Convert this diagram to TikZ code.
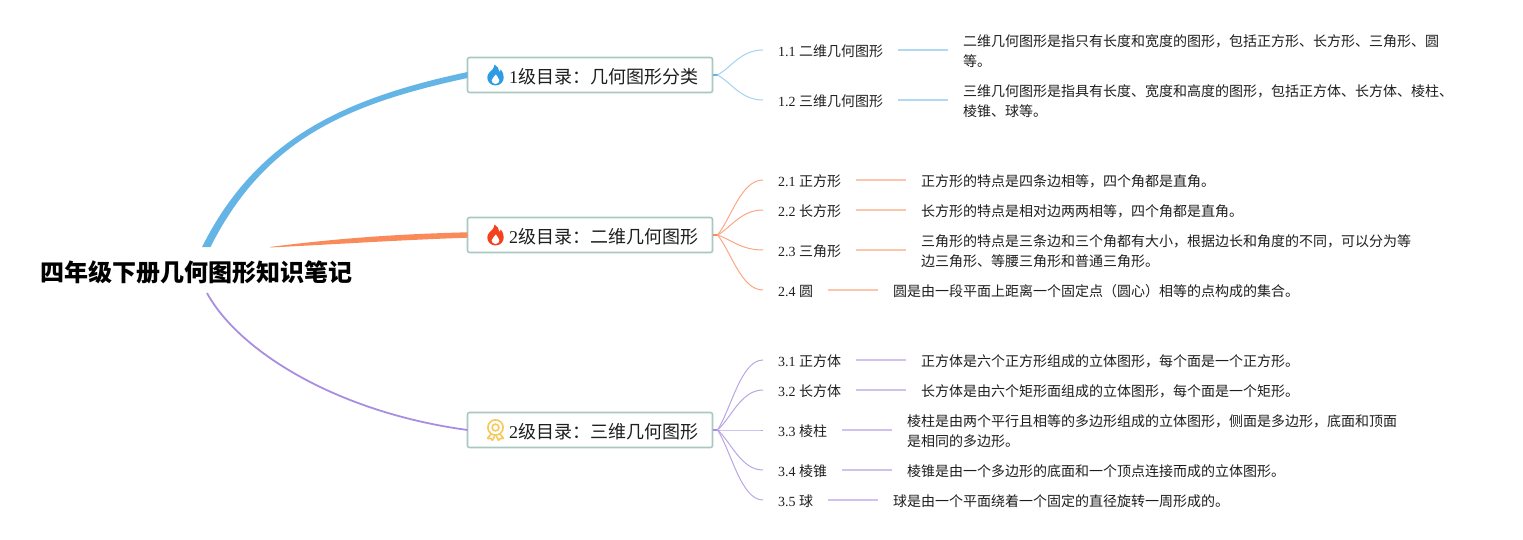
\documentclass[tikz,border=0pt]{standalone}
\usepackage{fontspec}
\usepackage{tikz}
\usetikzlibrary{positioning,calc}
\setmainfont{Noto Sans CJK SC}
\newfontfamily\latn{Liberation Serif}
\newcommand{\dg}[1]{{\latn #1}}
\newcommand{\fwcomma}{\char"FF0C\relax}
\newcommand{\fwcolon}{\char"FF1A\relax}
\newcommand{\fwopen}{\char"FF08\relax}
\newcommand{\fwclose}{\char"FF09\relax}
\definecolor{inkcol}{HTML}{1E1E1E}
\definecolor{framecol}{HTML}{A8C9C1}
\definecolor{bluecol}{HTML}{64B4E6}
\definecolor{orangecol}{HTML}{FA8A5A}
\definecolor{purplecol}{HTML}{A98EE0}
\definecolor{fireblue}{HTML}{2E9BE6}
\definecolor{firered}{HTML}{F4411E}
\definecolor{medalcol}{HTML}{F6C95A}
\tikzset{
	root/.style={inner sep=0pt,outer sep=0pt,text=black,font=\fontsize{24}{28}\selectfont\bfseries,text height=24pt,text depth=1pt},
	section/.style={draw=framecol,line width=1.6pt,rounded corners=2pt,fill=white,minimum width=245pt,minimum height=35pt,inner ysep=0pt,inner xsep=0pt,outer sep=0pt,text=inkcol,font=\fontsize{18}{22}\selectfont,text height=18pt,text depth=1pt},
	child/.style={anchor=west,inner ysep=0pt,inner xsep=15pt,outer sep=0pt,text=inkcol,font=\fontsize{14}{20}\selectfont,text height=14pt,text depth=1.4pt},
	detail/.style={inner ysep=0pt,inner xsep=15pt,outer sep=0pt,text=inkcol,font=\fontsize{14}{20}\selectfont,align=left,yshift=-1pt},
	twigblue/.style={draw=bluecol!60,line width=1pt},
	twigorange/.style={draw=orangecol!75,line width=1pt},
	twigpurple/.style={draw=purplecol!80,line width=1pt},
	linkblue/.style={draw=bluecol!50,line width=1.4pt},
	linkorange/.style={draw=orangecol!50,line width=1.4pt},
	linkpurple/.style={draw=purplecol!55,line width=1.4pt},
	flame/.pic={
		\fill[#1] (0,10.5) .. controls (-5,10.5) and (-8.2,6.5) .. (-8.2,2.5) .. controls (-8.2,-2) and (-4.5,-3.5) .. (-2.5,-6) .. controls (-1.2,-7.5) and (-1,-9) .. (-0.8,-10.5) .. controls (2,-9) and (3.5,-6) .. (3.8,-3) .. controls (4.8,-3.5) and (5.2,-4.5) .. (5.4,-5.5) .. controls (7.5,-3) and (8.2,0) .. (8.2,2.5) .. controls (8.2,6.5) and (5,10.5) .. (0,10.5) -- cycle;
		\fill[white] (0,9) .. controls (-2.4,9) and (-3.8,7.2) .. (-3.8,5.4) .. controls (-3.8,3.2) and (-1,2) .. (0.4,-0.6) .. controls (1.6,2) and (3.8,3.4) .. (3.8,5.4) .. controls (3.8,7.2) and (2.4,9) .. (0,9) -- cycle;
	},
	medal/.pic={
		\draw[medalcol,line width=1.6pt,fill=white] (0,-2.5) circle (7.6);
		\draw[medalcol,line width=1.6pt] (0,-2.5) circle (3.4);
		\draw[medalcol,line width=1.6pt,line join=round] (-4.5,4) -- (-8,8.4) -- (-4.6,8.6) -- (-3,10.4) -- (-0.8,6);
		\draw[medalcol,line width=1.6pt,line join=round] (4.5,4) -- (8,8.4) -- (4.6,8.6) -- (3,10.4) -- (0.8,6);
	},
}
\begin{document}
\begin{tikzpicture}[x=1pt,y=-1pt]
	\useasboundingbox (0,0) rectangle (1523,540);

	\node[root] (top) at (196,270) {四年级下册几何图形知识笔记};

	\node[section] (s1) at (590,75) {\hspace*{40pt}\dg{1}级目录\fwcolon 几何图形分类\hspace*{13pt}};
	\node[section] (s2) at (590,235) {\hspace*{40pt}\dg{2}级目录\fwcolon 二维几何图形\hspace*{13pt}};
	\node[section] (s3) at (590,430) {\hspace*{40pt}\dg{2}级目录\fwcolon 三维几何图形\hspace*{13pt}};

	\pic at ($(s1.west)+(28,0)$) {flame=fireblue};
	\pic at ($(s2.west)+(28,0)$) {flame=firered};
	\pic at ($(s3.west)+(28,0)$) {medal};

	\fill[bluecol] ($(top.center)+(6,-23)$) .. controls (257,137) and (347,97.7) .. ($(s1.west)+(0,-3)$) -- ($(s1.west)+(0,3)$) .. controls (347,104) and (265,139) .. ($(top.center)+(14.5,-23)$) -- cycle;
	\fill[orangecol] ($(top.center)+(74,-23)$) .. controls (340,238) and (400,234) .. ($(s2.west)+(0,-2.7)$) -- ($(s2.west)+(0,2.7)$) .. controls (400,240) and (340,244) .. ($(top.center)+(74,-22.5)$) -- cycle;
	\draw[purplecol,line width=1.8pt] ($(top.center)+(11,23)$) .. controls (238,350) and (335,412) .. (s3.west);

	\node[child] (c11) at (763,50) {\dg{1.1 }二维几何图形};
	\node[child] (c12) at (763,100) {\dg{1.2 }三维几何图形};
	\node[child] (c21) at (763,180) {\dg{2.1 }正方形};
	\node[child] (c22) at (763,210) {\dg{2.2 }长方形};
	\node[child] (c23) at (763,250) {\dg{2.3 }三角形};
	\node[child] (c24) at (763,290) {\dg{2.4 }圆};
	\node[child] (c31) at (763,360) {\dg{3.1 }正方体};
	\node[child] (c32) at (763,390) {\dg{3.2 }长方体};
	\node[child] (c33) at (763,430) {\dg{3.3 }棱柱};
	\node[child] (c34) at (763,470) {\dg{3.4 }棱锥};
	\node[child] (c35) at (763,500) {\dg{3.5 }球};

	\node[detail,right=50pt of c11] (d11) {二维几何图形是指只有长度和宽度的图形\fwcomma 包括正方形、长方形、三角形、圆\\等。};
	\node[detail,right=50pt of c12] (d12) {三维几何图形是指具有长度、宽度和高度的图形\fwcomma 包括正方体、长方体、棱柱、\\棱锥、球等。};
	\node[detail,right=50pt of c21] (d21) {正方形的特点是四条边相等\fwcomma 四个角都是直角。};
	\node[detail,right=50pt of c22] (d22) {长方形的特点是相对边两两相等\fwcomma 四个角都是直角。};
	\node[detail,right=50pt of c23] (d23) {三角形的特点是三条边和三个角都有大小\fwcomma 根据边长和角度的不同\fwcomma 可以分为等\\边三角形、等腰三角形和普通三角形。};
	\node[detail,right=50pt of c24] (d24) {圆是由一段平面上距离一个固定点\fwopen 圆心\fwclose 相等的点构成的集合。};
	\node[detail,right=50pt of c31] (d31) {正方体是六个正方形组成的立体图形\fwcomma 每个面是一个正方形。};
	\node[detail,right=50pt of c32] (d32) {长方体是由六个矩形面组成的立体图形\fwcomma 每个面是一个矩形。};
	\node[detail,right=50pt of c33] (d33) {棱柱是由两个平行且相等的多边形组成的立体图形\fwcomma 侧面是多边形\fwcomma 底面和顶面\\是相同的多边形。};
	\node[detail,right=50pt of c34] (d34) {棱锥是由一个多边形的底面和一个顶点连接而成的立体图形。};
	\node[detail,right=50pt of c35] (d35) {球是由一个平面绕着一个固定的直径旋转一周形成的。};

	\coordinate[right=5pt of s1.east] (j1);
	\coordinate[right=5pt of s2.east] (j2);
	\coordinate[right=5pt of s3.east] (j3);

	\draw[bluecol,line width=1.6pt] (s1.east) -- (j1);
	\draw[orangecol,line width=1.6pt] (s2.east) -- (j2);
	\draw[purplecol,line width=1.6pt] (s3.east) -- (j3);

	\foreach \c in {c11,c12}{
		\draw[twigblue] (j1) .. controls ($(j1)!.3!(\c.west)$) and ($(\c.west)+(-22,0)$) .. (\c.west);
		}
	\foreach \c in {c21,c22,c23,c24}{
		\draw[twigorange] (j2) .. controls ($(j2)!.3!(\c.west)$) and ($(\c.west)+(-22,0)$) .. (\c.west);
		}
	\foreach \c in {c31,c32,c33,c34,c35}{
		\draw[twigpurple] (j3) .. controls ($(j3)!.3!(\c.west)$) and ($(\c.west)+(-22,0)$) .. (\c.west);
		}

	\foreach \c/\d in {c11/d11,c12/d12}{
		\draw[linkblue] (\c.east) -- (\c.east -| \d.west);
		}
	\foreach \c/\d in {c21/d21,c22/d22,c23/d23,c24/d24}{
		\draw[linkorange] (\c.east) -- (\c.east -| \d.west);
		}
	\foreach \c/\d in {c31/d31,c32/d32,c33/d33,c34/d34,c35/d35}{
		\draw[linkpurple] (\c.east) -- (\c.east -| \d.west);
		}
\end{tikzpicture}
\end{document}
